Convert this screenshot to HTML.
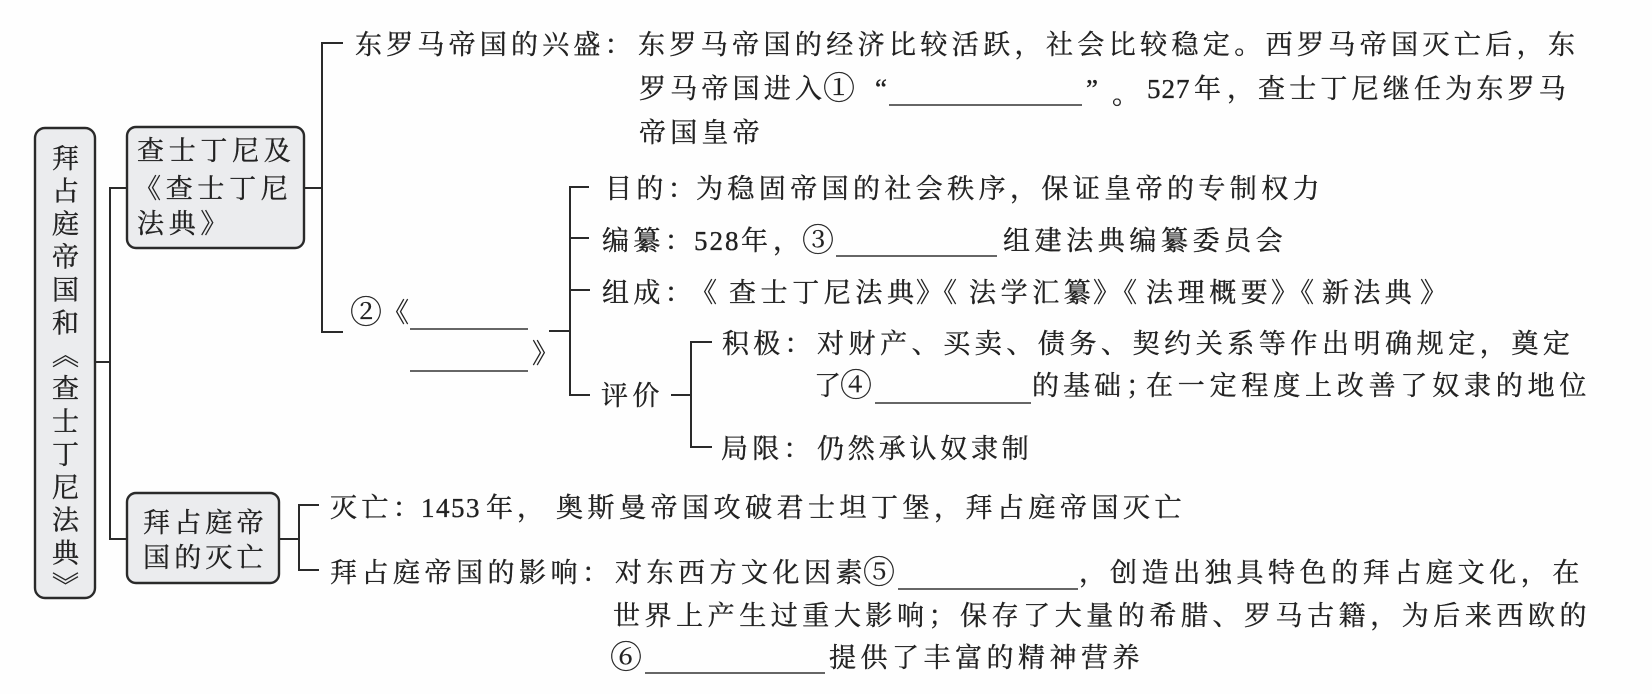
<!DOCTYPE html>
<html lang="zh">
<head>
<meta charset="utf-8">
<style>
html,body{margin:0;padding:0;background:#fff;width:1652px;height:694px;overflow:hidden}
svg{position:absolute;left:0;top:0}
text{font-family:"Noto Serif CJK SC",serif;font-size:27px;fill:#222;stroke:#222;stroke-width:.35}
text.n{font-family:"Liberation Serif",serif}
text.c{font-size:32px;stroke-width:.2}
.l{fill:none;stroke:#2a2a2a;stroke-width:2}
.u{fill:none;stroke:#333;stroke-width:1.6}
.b{fill:#ebecee;stroke:#2a2a2a;stroke-width:2.4}
#v{position:absolute;left:35px;top:144px;width:60px;line-height:60px;writing-mode:vertical-rl;font-family:"Noto Serif CJK SC",serif;font-size:27px;letter-spacing:5.9px;color:#222;white-space:nowrap;-webkit-text-stroke:.35px #222}
</style>
</head>
<body>
<svg width="1652" height="694" viewBox="0 0 1652 694" xmlns="http://www.w3.org/2000/svg">
<rect width="1652" height="694" fill="#fefefe"/>
<!-- boxes -->
<rect class="b" x="35" y="128" width="60" height="470" rx="10"/>
<rect class="b" x="127" y="127" width="177" height="121" rx="9"/>
<rect class="b" x="127" y="493" width="152" height="90" rx="9"/>
<!-- connectors -->
<path class="l" d="M95 362H110M127 188H110V539H127"/>
<path class="l" d="M304 188H322M343 43H322V332H343"/>
<path class="l" d="M549 331H570M589 187H570V395H590M570 238H589M570 290H590"/>
<path class="l" d="M671 395H691M712 342H691V447H712"/>
<path class="l" d="M279 539H299M319 505H299V570H319"/>
<!-- underlines -->
<path class="u" d="M889 105H1082M836 256H997M410 329H528M410 371H528M875 403H1031M898 589H1078M645 673H825"/>
<!-- box text -->
<text x="137" y="160" letter-spacing="4.7">查士丁尼及</text>
<text x="134" y="198" letter-spacing="4.7">《查士丁尼</text>
<text x="137" y="233" letter-spacing="4.7">法典》</text>
<text x="143" y="532" letter-spacing="4.2">拜占庭帝</text>
<text x="143" y="567" letter-spacing="4.2">国的灭亡</text>
<!-- upper branch -->
<text x="355" y="54" letter-spacing="4.2">东罗马帝国的兴盛&#xFF1A;</text>
<text x="638" y="54" letter-spacing="4.38">东罗马帝国的经济比较活跃&#xFF0C;社会比较稳定。西罗马帝国灭亡后&#xFF0C;东</text>
<text x="639" y="98" letter-spacing="4.2">罗马帝国进入</text>
<text class="c" x="823" y="99">①</text>
<text class="n" x="875" y="98">“</text>
<text class="n" x="1086" y="98">”</text>
<text x="1112" y="104">。</text>
<text class="n" x="1147" y="98" letter-spacing="1">527</text>
<text x="1194" y="98">年</text>
<text x="1227" y="98">&#xFF0C;</text>
<text x="1258" y="98" letter-spacing="4.2">查士丁尼继任为东罗马</text>
<text x="639" y="142" letter-spacing="4.2">帝国皇帝</text>
<!-- middle branch -->
<text x="605" y="198" letter-spacing="4.4">目的&#xFF1A;</text>
<text x="696" y="198" letter-spacing="4.4">为稳固帝国的社会秩序&#xFF0C;保证皇帝的专制权力</text>
<text x="602" y="250" letter-spacing="4.4">编纂&#xFF1A;</text>
<text class="n" x="694" y="250" letter-spacing="2">528</text>
<text x="741" y="250">年</text>
<text x="773" y="250">&#xFF0C;</text>
<text class="c" x="802" y="251">③</text>
<text x="1003" y="250" letter-spacing="4.6">组建法典编纂委员会</text>
<text x="602" y="302" letter-spacing="4.4">组成&#xFF1A;</text>
<text x="690" y="302">《</text>
<text x="729" y="302" letter-spacing="4.6">查士丁尼法典</text>
<text x="916" y="302">》</text>
<text x="930" y="302">《</text>
<text x="969" y="302" letter-spacing="4.6">法学汇纂</text>
<text x="1093" y="302">》</text>
<text x="1110" y="302">《</text>
<text x="1146" y="302" letter-spacing="4.6">法理概要</text>
<text x="1271" y="302">》</text>
<text x="1287" y="302">《</text>
<text x="1322" y="302" letter-spacing="4.4">新法典</text>
<text x="1420" y="302">》</text>
<text class="c" x="350" y="323">②</text>
<text x="382" y="322">《</text>
<text x="532" y="363">》</text>
<text x="601" y="405" letter-spacing="4.4">评价</text>
<text x="722" y="353" letter-spacing="4.2">积极&#xFF1A;</text>
<text x="817" y="353" letter-spacing="4.56">对财产、买卖、债务、契约关系等作出明确规定&#xFF0C;奠定</text>
<text x="814" y="395">了</text>
<text class="c" x="840" y="396">④</text>
<text x="1032" y="395" letter-spacing="4">的基础</text>
<text x="1126" y="395">&#xFF1B;</text>
<text x="1146" y="395" letter-spacing="4.8">在一定程度上改善了奴隶的地位</text>
<text x="721" y="458" letter-spacing="4.2">局限&#xFF1A;</text>
<text x="817" y="458" letter-spacing="3.8">仍然承认奴隶制</text>
<!-- lower branch -->
<text x="330" y="517" letter-spacing="4.4">灭亡&#xFF1A;</text>
<text class="n" x="421" y="517" letter-spacing="1.5">1453</text>
<text x="486" y="517">年</text>
<text x="517" y="517">&#xFF0C;</text>
<text x="556" y="517" letter-spacing="4.5">奥斯曼帝国攻破君士坦丁堡&#xFF0C;拜占庭帝国灭亡</text>
<text x="330" y="582" letter-spacing="4.5">拜占庭帝国的影响&#xFF1A;</text>
<text x="615" y="582" letter-spacing="4.5">对东西方文化因素</text>
<text class="c" x="863" y="583">⑤</text>
<text x="1079" y="582">&#xFF0C;</text>
<text x="1110" y="582" letter-spacing="4.6">创造出独具特色的拜占庭文化&#xFF0C;在</text>
<text x="613" y="625" letter-spacing="4.55">世界上产生过重大影响&#xFF1B;保存了大量的希腊、罗马古籍&#xFF0C;为后来西欧的</text>
<text class="c" x="610" y="668">⑥</text>
<text x="829" y="667" letter-spacing="4.5">提供了丰富的精神营养</text>
</svg>
<div id="v">拜占庭帝国和《查士丁尼法典》</div>
</body>
</html>
